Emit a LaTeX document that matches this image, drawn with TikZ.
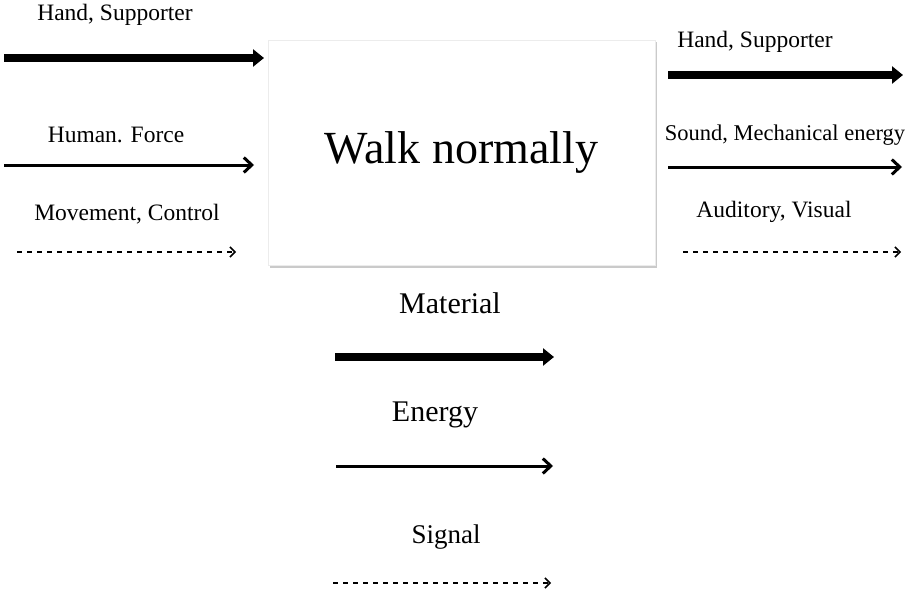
\documentclass[tikz,border=0pt]{standalone}
\usepackage{fontspec}
\setmainfont{Liberation Serif}
\usetikzlibrary{arrows.meta,shadows}

\begin{document}
\begin{tikzpicture}[x=1pt,y=-1pt]
\tikzstyle{materiel}=[-{Triangle[length=11pt,width=17pt]},line width=8pt]
\tikzstyle{energie}=[-{Straight Barb[length=8pt,width=15pt]},line width=3pt]
\tikzstyle{signal}=[-{Straight Barb[length=5pt,width=10pt]},line width=1.5pt,dash pattern=on 5pt off 5pt]
\tikzset{etiquette/.style={font=\fontsize{#1}{#1}\selectfont},
etiquette/.default={23.5}}
\tikzset{fonction/.style={fill=white,draw=gray!15,minimum width=387pt,minimum height=225pt,
  drop shadow={shadow xshift=1.5pt,shadow yshift=-2.5pt,fill=gray!70,opacity=.6},
  font=\fontsize{46}{46}\selectfont}}
\useasboundingbox (0,0) rectangle (911,594);

% fonction principale
\node[fonction] (F) at (461.5,152.5) {Walk normally};

% entrees
\node[etiquette] (E1) at (115,15) {Hand, Supporter};
\node[etiquette] (E2) at (116,135) {Human. Force};
\node[etiquette] (E3) at (127,214) {Movement, Control};
\coordinate (e1a) at (4,58);   \coordinate (e1b) at (264,58);
\coordinate (e2a) at (4,165);  \coordinate (e2b) at (254,165);
\coordinate (e3a) at (17,252); \coordinate (e3b) at (236,252);
\draw[materiel] (e1a) -- (e1b);
\draw[energie] (e2a) -- (e2b);
\draw[signal] (e3a) -- (e3b);

% sorties
\node[etiquette] (S1) at (755,42) {Hand, Supporter};
\node[etiquette=22.5] (S2) at (785,135) {Sound, Mechanical energy};
\node[etiquette] (S3) at (774,212) {Auditory, Visual};
\coordinate (s1a) at (668,75);  \coordinate (s1b) at (903,75);
\coordinate (s2a) at (668,167); \coordinate (s2b) at (902,167);
\coordinate (s3a) at (683,252); \coordinate (s3b) at (901,252);
\draw[materiel] (s1a) -- (s1b);
\draw[energie] (s2a) -- (s2b);
\draw[signal] (s3a) -- (s3b);

% legende
\node[etiquette=30] (L1) at (450,303) {Material};
\node[etiquette=30] (L2) at (435,415) {Energy};
\node[etiquette=27] (L3) at (446,537) {Signal};
\coordinate (l1a) at (335,357); \coordinate (l1b) at (554,357);
\coordinate (l2a) at (336,466); \coordinate (l2b) at (553,466);
\coordinate (l3a) at (333,583); \coordinate (l3b) at (551,583);
\draw[materiel] (l1a) -- (l1b);
\draw[energie] (l2a) -- (l2b);
\draw[signal] (l3a) -- (l3b);

\end{tikzpicture}
\end{document}
